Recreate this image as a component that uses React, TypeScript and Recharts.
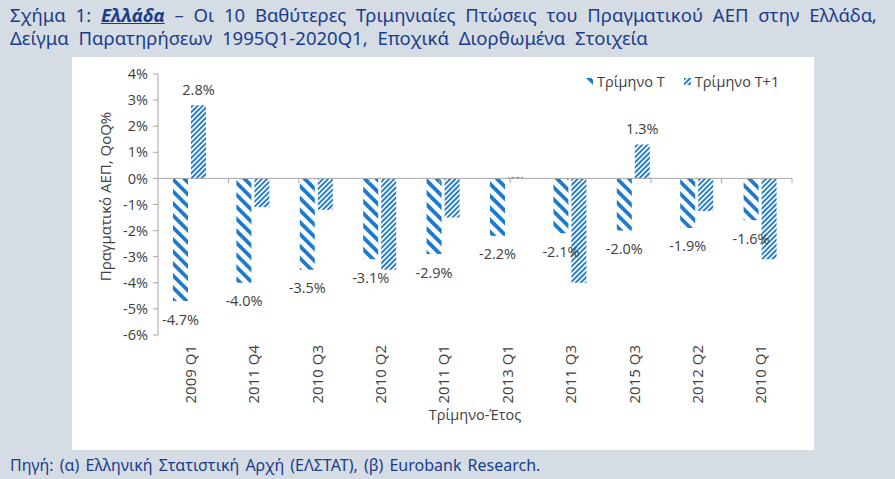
import { BarChart, Bar, XAxis, YAxis, Legend, LabelList, ReferenceLine } from 'recharts';

const quarters = ['2009 Q1', '2011 Q4', '2010 Q3', '2010 Q2', '2011 Q1', '2013 Q1', '2011 Q3', '2015 Q3', '2012 Q2', '2010 Q1'];
const quarterT = [-4.7, -4.0, -3.5, -3.1, -2.9, -2.2, -2.1, -2.0, -1.9, -1.6];
const quarterT1 = [2.8, -1.1, -1.2, -3.5, -1.5, 0.05, -4.0, 1.3, -1.25, -3.1];
// only the two rebounds carry a value label
const quarterT1Labels = [2.8, null, null, null, null, null, null, 1.3, null, null];
const yTicks = [-6, -5, -4, -3, -2, -1, 0, 1, 2, 3, 4];
const boundaries = [1, 2, 3, 4, 5, 6, 7, 8, 9, 10];

const data = quarters.map((q, i) => ({ q, t: quarterT[i], t1: quarterT1[i], t1Label: quarterT1Labels[i] }));

const BLUE = '#1f7acb';
const NAVY = '#1b3c8c';
const TEXT = '#404040';
const FONT = '"Open Sans", sans-serif';

const Stripes = ({ id, size, line, angle }: { id: string; size: number; line: number; angle: number }) => (
  <pattern id={id} patternUnits="userSpaceOnUse" width={size} height={size} patternTransform={`rotate(${angle})`}>
    <rect width={size} height={size} fill="#fff" />
    <line x1={line / 2} y1={0} x2={line / 2} y2={size} stroke={BLUE} strokeWidth={line} />
  </pattern>
);

const PatternDefs = ({ suffix = '' }: { suffix?: string }) => (
  <defs>
    <Stripes id={`stripeT${suffix}`} size={8.5} line={3.8} angle={-45} />
    <Stripes id={`stripeT1${suffix}`} size={3.6} line={1.9} angle={45} />
  </defs>
);

// label under negative bars, above positive ones
const valueLabel = (props: any) => {
  const { x, y, width, height, value } = props;
  if (value === null || value === undefined) return null;
  const end = value < 0 ? Math.max(y, y + height) : Math.min(y, y + height);
  const ty = value < 0 ? end + 18 : end - 16;
  return (
    <text x={x + width / 2} y={ty} textAnchor="middle" dominantBaseline="central" fill={TEXT} fontSize={14.5} fontFamily={FONT}>
      {`${Number(value).toFixed(1)}%`}
    </text>
  );
};

const QuarterTick = ({ x, y, payload }: any) => (
  <text
    x={x}
    y={y + 10}
    transform={`rotate(-90, ${x}, ${y + 10})`}
    textAnchor="end"
    dominantBaseline="central"
    fill={TEXT}
    fontSize={15}
    fontFamily={FONT}
  >
    {payload.value}
  </text>
);

const legendItems = [
  { key: 't', name: 'Τρίμηνο T', fill: 'url(#stripeTL)' },
  { key: 't1', name: 'Τρίμηνο T+1', fill: 'url(#stripeT1L)' },
];

const LegendBox = () => (
  <div style={{ display: 'flex', fontFamily: FONT, fontSize: 14.5, color: TEXT }}>
    {legendItems.map((it) => (
      <div key={it.key} style={{ display: 'flex', alignItems: 'center', marginRight: 19 }}>
        <svg width={7} height={7} style={{ marginRight: 4 }}>
          <PatternDefs suffix="L" />
          <rect width={7} height={7} fill={it.fill} />
        </svg>
        <span>{it.name}</span>
      </div>
    ))}
  </div>
);

export default function App() {
  return (
    <div style={{ position: 'absolute', left: 0, top: 0, width: 895, height: 479, background: '#d5dce3', overflow: 'hidden' }}>
      <div style={{ position: 'absolute', left: 10, top: 3, color: NAVY, fontFamily: '"Noto Sans", sans-serif', fontSize: 18.5, wordSpacing: 5, lineHeight: '23px', whiteSpace: 'nowrap' }}>
        <div>
          Σχήμα 1: <b style={{ fontStyle: 'italic', textDecoration: 'underline' }}>Ελλάδα</b> – Οι 10 Βαθύτερες Τριμηνιαίες Πτώσεις του Πραγματικού ΑΕΠ στην Ελλάδα,
        </div>
        <div>Δείγμα Παρατηρήσεων 1995Q1-2020Q1, Εποχικά Διορθωμένα Στοιχεία</div>
      </div>
      <div style={{ position: 'absolute', left: 72, top: 57, width: 742, height: 393, background: '#fff' }}>
        <BarChart width={742} height={393} data={data} margin={{ top: 17, right: 22, bottom: 0, left: 0 }} barSize={15} barGap={3}>
          <PatternDefs />
          <XAxis
            dataKey="q"
            height={115}
            axisLine={false}
            tickLine={false}
            tickSize={0}
            tickMargin={0}
            interval={0}
            tick={<QuarterTick />}
            label={{
              content: ({ viewBox }: any) => (
                <text x={viewBox.x + viewBox.width / 2} y={viewBox.y + 79} textAnchor="middle" dominantBaseline="central" fill={TEXT} fontSize={14.5} fontFamily={FONT}>
                  Τρίμηνο-Έτος
                </text>
              ),
            }}
          />
          <XAxis xAxisId="edge" type="number" domain={[0, 10]} hide />
          <YAxis
            width={86}
            domain={[-6, 4]}
            ticks={yTicks}
            interval={0}
            tickFormatter={(v: number) => `${v}%`}
            axisLine={{ stroke: '#a6a6a6' }}
            tickLine={{ stroke: '#a6a6a6' }}
            tickSize={5}
            tickMargin={5}
            tick={{ fill: TEXT, fontSize: 14.5, fontFamily: FONT }}
            label={{
              content: ({ viewBox }: any) => {
                const cx = viewBox.x + 33;
                const cy = viewBox.y + viewBox.height / 2 - 8;
                return (
                  <text x={cx} y={cy} transform={`rotate(-90, ${cx}, ${cy})`} textAnchor="middle" dominantBaseline="central" fill={TEXT} fontSize={15} fontFamily={FONT}>
                    Πραγματικό ΑΕΠ, QoQ%
                  </text>
                );
              },
            }}
          />
          <ReferenceLine y={0} stroke="#a6a6a6" />
          {boundaries.map((b) => (
            <ReferenceLine
              key={b}
              xAxisId="edge"
              segment={[{ x: b, y: 0 }, { x: b, y: -0.18 }]}
              stroke="#a6a6a6"
            />
          ))}
          <Legend
            layout="horizontal"
            verticalAlign="middle"
            align="center"
            content={<LegendBox />}
            wrapperStyle={{ left: 514, top: 15, width: 240 }}
          />
          <Bar dataKey="t" name="Τρίμηνο T" fill="url(#stripeT)" isAnimationActive={false}>
            <LabelList dataKey="t" content={valueLabel} />
          </Bar>
          <Bar dataKey="t1" name="Τρίμηνο T+1" fill="url(#stripeT1)" isAnimationActive={false}>
            <LabelList dataKey="t1Label" content={valueLabel} />
          </Bar>
        </BarChart>
      </div>
      <div style={{ position: 'absolute', left: 10, top: 454, color: NAVY, fontFamily: '"Noto Sans", sans-serif', fontSize: 16, wordSpacing: 2, whiteSpace: 'nowrap' }}>
        Πηγή: (α) Ελληνική Στατιστική Αρχή (ΕΛΣΤΑΤ), (β) Eurobank Research.
      </div>
    </div>
  );
}
